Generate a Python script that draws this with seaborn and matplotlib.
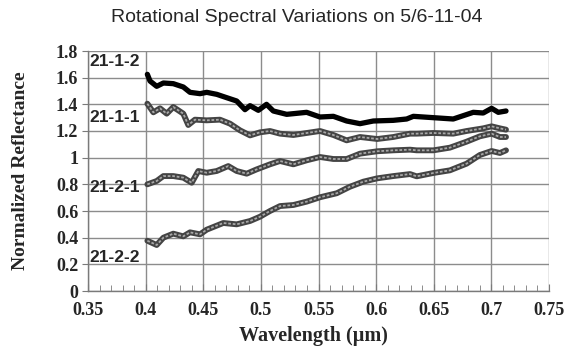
import matplotlib
matplotlib.use("Agg")
import matplotlib.pyplot as plt
import seaborn as sns
import pandas as pd
from matplotlib.ticker import MultipleLocator, FuncFormatter

# valores
x_112 = [0.4015, 0.4038, 0.4096, 0.4154, 0.424, 0.4327, 0.4385, 0.4472, 0.453, 0.4617,
         0.4703, 0.479, 0.4862, 0.4906, 0.4978, 0.5049, 0.5108, 0.5224, 0.5282, 0.5397,
         0.5513, 0.5629, 0.5744, 0.586, 0.5976, 0.6149, 0.6265, 0.6323, 0.6496, 0.6669,
         0.6843, 0.6929, 0.7002, 0.706, 0.7127]
y_112 = [1.625, 1.575, 1.535, 1.56, 1.555, 1.53, 1.49, 1.48, 1.49, 1.475,
         1.45, 1.425, 1.36, 1.39, 1.355, 1.40, 1.35, 1.325, 1.33, 1.34,
         1.305, 1.31, 1.275, 1.255, 1.275, 1.28, 1.29, 1.31, 1.30, 1.29,
         1.34, 1.335, 1.37, 1.34, 1.35]

x_111 = [0.4015, 0.4067, 0.4125, 0.4183, 0.424, 0.4327, 0.437, 0.4428, 0.453, 0.4645,
         0.4732, 0.4819, 0.4906, 0.4992, 0.5079, 0.5166, 0.5282, 0.5397, 0.5513, 0.5629,
         0.5744, 0.586, 0.601, 0.6149, 0.6294, 0.6352, 0.6496, 0.6669, 0.6785, 0.6929,
         0.7002, 0.7074, 0.7127]
y_111 = [1.405, 1.34, 1.37, 1.33, 1.38, 1.33, 1.245, 1.285, 1.28, 1.285,
         1.255, 1.205, 1.167, 1.19, 1.20, 1.18, 1.17, 1.185, 1.20, 1.17,
         1.13, 1.155, 1.14, 1.155, 1.18, 1.18, 1.185, 1.18, 1.20, 1.22,
         1.235, 1.22, 1.21]

x_121 = [0.4015, 0.4096, 0.4154, 0.424, 0.4327, 0.44, 0.4457, 0.453, 0.4617, 0.4717,
         0.479, 0.4877, 0.4963, 0.5079, 0.5166, 0.5282, 0.5397, 0.5513, 0.5629, 0.5744,
         0.586, 0.601, 0.6149, 0.6294, 0.6352, 0.6496, 0.664, 0.6785, 0.69, 0.7002,
         0.7074, 0.7127]
y_121 = [0.80, 0.825, 0.862, 0.862, 0.85, 0.812, 0.90, 0.887, 0.90, 0.937,
         0.90, 0.88, 0.912, 0.95, 0.975, 0.95, 0.98, 1.005, 0.99, 0.99,
         1.03, 1.048, 1.055, 1.06, 1.055, 1.055, 1.075, 1.12, 1.16, 1.18,
         1.155, 1.155]

x_122 = [0.4015, 0.4096, 0.4154, 0.424, 0.4327, 0.4385, 0.4472, 0.453, 0.4674, 0.479,
         0.4906, 0.4992, 0.5079, 0.5166, 0.5282, 0.5397, 0.5513, 0.5658, 0.5773, 0.5889,
         0.601, 0.6149, 0.6294, 0.6352, 0.6496, 0.664, 0.6785, 0.69, 0.7002, 0.7074,
         0.7127]
y_122 = [0.377, 0.345, 0.40, 0.43, 0.41, 0.44, 0.425, 0.46, 0.51, 0.50,
         0.525, 0.557, 0.60, 0.637, 0.645, 0.67, 0.703, 0.733, 0.782, 0.82,
         0.845, 0.862, 0.877, 0.86, 0.885, 0.905, 0.955, 1.02, 1.05, 1.035,
         1.055]

etiquetas = ["21-1-2", "21-1-1", "21-2-1", "21-2-2"]
pos_etiquetas = [1.718, 1.305, 0.773, 0.248]

sns.set_style("white")

fig = plt.figure(figsize=(5.66, 3.54), dpi=100)
ax = fig.add_axes([88 / 566, 63 / 354, 461 / 566, 240 / 354])

# serie negra
df = pd.DataFrame({"x": x_112, "y": y_112})
sns.lineplot(data=df, x="x", y="y", ax=ax, color="black", linewidth=3.8, sort=False, zorder=5)

# series grises (aspecto de marcadores huecos)
for xs, ys in [(x_111, y_111), (x_121, y_121), (x_122, y_122)]:
    d = pd.DataFrame({"x": xs, "y": ys})
    sns.lineplot(data=d, x="x", y="y", ax=ax, color="#444444", linewidth=4.2, sort=False, zorder=4)
    sns.lineplot(data=d, x="x", y="y", ax=ax, color="#a8a8a8", linewidth=1.3, sort=False, zorder=4,
                 linestyle=(0, (1.5, 1)))

for txt, yy in zip(etiquetas, pos_etiquetas):
    ax.text(0.3515, yy, txt, fontsize=12.5, fontweight="bold", family="Liberation Sans",
            va="center", ha="left", zorder=6)

ax.set_xlim(0.35, 0.75)
ax.set_ylim(0, 1.8)
ax.xaxis.set_major_locator(MultipleLocator(0.05))
ax.xaxis.set_minor_locator(MultipleLocator(0.01))
ax.yaxis.set_major_locator(MultipleLocator(0.2))
fmt = FuncFormatter(lambda v, p: "%g" % round(v, 2))
ax.xaxis.set_major_formatter(fmt)
ax.yaxis.set_major_formatter(fmt)

ax.grid(True, which="major", color="#8c8c8c", linewidth=1.0)
ax.set_axisbelow(True)
for s in ["top", "right"]:
    ax.spines[s].set_visible(False)
for s in ["left", "bottom"]:
    ax.spines[s].set_color("#7a7a7a")
    ax.spines[s].set_linewidth(1.0)

ax.tick_params(axis="x", which="both", direction="in", length=4, color="#7a7a7a", bottom=True)
ax.tick_params(axis="x", which="major", length=5, pad=8)
ax.tick_params(axis="y", which="major", direction="out", length=4, color="#7a7a7a", left=True, pad=3)
for lab in ax.get_xticklabels() + ax.get_yticklabels():
    lab.set_family("Liberation Serif")
    lab.set_fontweight("bold")
    lab.set_fontsize(13)

ax.set_xlabel("Wavelength (µm)", family="Liberation Serif", fontweight="bold", fontsize=14.5)
ax.set_ylabel("Normalized Reflectance", family="Liberation Serif", fontweight="bold", fontsize=14)
ax.xaxis.set_label_coords(0.49, -0.145)
ax.yaxis.set_label_coords(-0.128, 0.5)

fig.text(297 / 566, 1 - 18 / 354, "Rotational Spectral Variations on 5/6-11-04",
         family="Liberation Sans", fontsize=14, ha="center", va="center")

fig.savefig("out.png", dpi=100, facecolor="white")
